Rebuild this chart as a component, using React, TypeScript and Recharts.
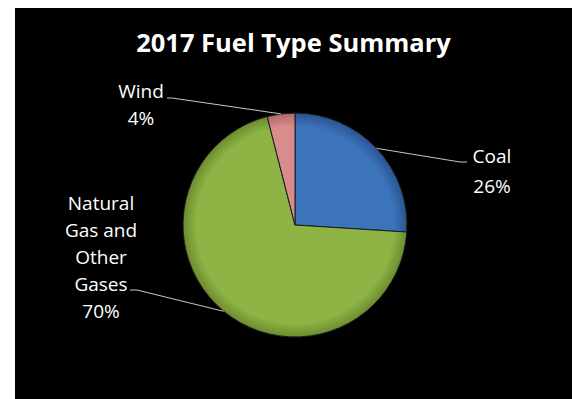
import { PieChart, Pie, Cell } from "recharts";

const categories = ["Coal", "Natural Gas and Other Gases", "Wind"];
const categoryLines = [["Coal"], ["Natural", "Gas and", "Other", "Gases"], ["Wind"]];
const shares = [26, 70, 4];
const colors = ["#3C74BC", "#8DB444", "#D98C8C"];
const edgeColors = ["#2A5590", "#6B8C2E", "#B06868"];

const data = categories.map((name, i) => ({ name, value: shares[i], idx: i }));

// where each leader line bends and where its text sits, relative to the pie centre
const labelLayout: Record<string, { elbow: [number, number]; end: number; tx: number; ty: number; gap: number }> = {
  Coal: { elbow: [165, -63], end: 172, tx: 197, ty: -62, gap: 30 },
  "Natural Gas and Other Gases": { elbow: [-158, 65], end: -165, tx: -194, ty: -15, gap: 27 },
  Wind: { elbow: [-123, -127], end: -128, tx: -154, ty: -127, gap: 27 },
};

const RAD = Math.PI / 180;

const renderLabel = (props: any) => {
  const { cx, cy, midAngle, outerRadius, name, percent, index } = props;
  const l = labelLayout[name];
  if (!l) return null;
  const sx = cx + outerRadius * Math.cos(-midAngle * RAD);
  const sy = cy + outerRadius * Math.sin(-midAngle * RAD);
  const ex = cx + l.elbow[0];
  const ey = cy + l.elbow[1];
  const lines = [...categoryLines[index], `${Math.round(percent * 100)}%`];
  return (
    <g>
      <polyline
        points={`${sx},${sy} ${ex},${ey} ${cx + l.end},${ey}`}
        fill="none"
        stroke="#C8C8C8"
        strokeWidth={1}
      />
      <text
        x={cx + l.tx}
        y={cy + l.ty}
        fill="#FFFFFF"
        fontSize={19}
        fontFamily="'Open Sans', sans-serif"
        textAnchor="middle"
      >
        {lines.map((t, i) => (
          <tspan key={i} x={cx + l.tx} dy={i === 0 ? 0 : l.gap}>
            {t}
          </tspan>
        ))}
      </text>
    </g>
  );
};

const App = () => {
  return (
    <div style={{ position: "fixed", left: 0, top: 0, width: 572, height: 399, background: "#fff" }}>
      <div style={{ position: "absolute", left: 15, top: 8, width: 557, height: 391, background: "#000" }}>
        <div
          style={{
            position: "absolute",
            left: 0,
            top: 19,
            width: "100%",
            textAlign: "center",
            color: "#fff",
            fontFamily: "'Open Sans', sans-serif",
            fontWeight: 700,
            fontSize: 25.5,
            lineHeight: "30px",
          }}
        >
          2017 Fuel Type Summary
        </div>
        <PieChart
          width={557}
          height={391}
          margin={{ top: 0, right: 0, bottom: 0, left: 0 }}
          style={{ position: "absolute", left: 0, top: 0 }}
        >
          <defs>
            {colors.map((c, i) => (
              <radialGradient key={i} id={`bevel${i}`} cx={280} cy={217} r={112} gradientUnits="userSpaceOnUse">
                <stop offset="0%" stopColor={c} />
                <stop offset="88%" stopColor={c} />
                <stop offset="100%" stopColor={edgeColors[i]} />
              </radialGradient>
            ))}
          </defs>
          <Pie
            data={data}
            dataKey="value"
            nameKey="name"
            cx={280}
            cy={217}
            outerRadius={112}
            startAngle={90}
            endAngle={-270}
            stroke="#1a1a1a"
            strokeWidth={1}
            label={renderLabel}
            labelLine={false}
            isAnimationActive={false}
          >
            {data.map((d) => (
              <Cell key={d.name} fill={`url(#bevel${d.idx})`} />
            ))}
          </Pie>
        </PieChart>
      </div>
    </div>
  );
};

export default App;
